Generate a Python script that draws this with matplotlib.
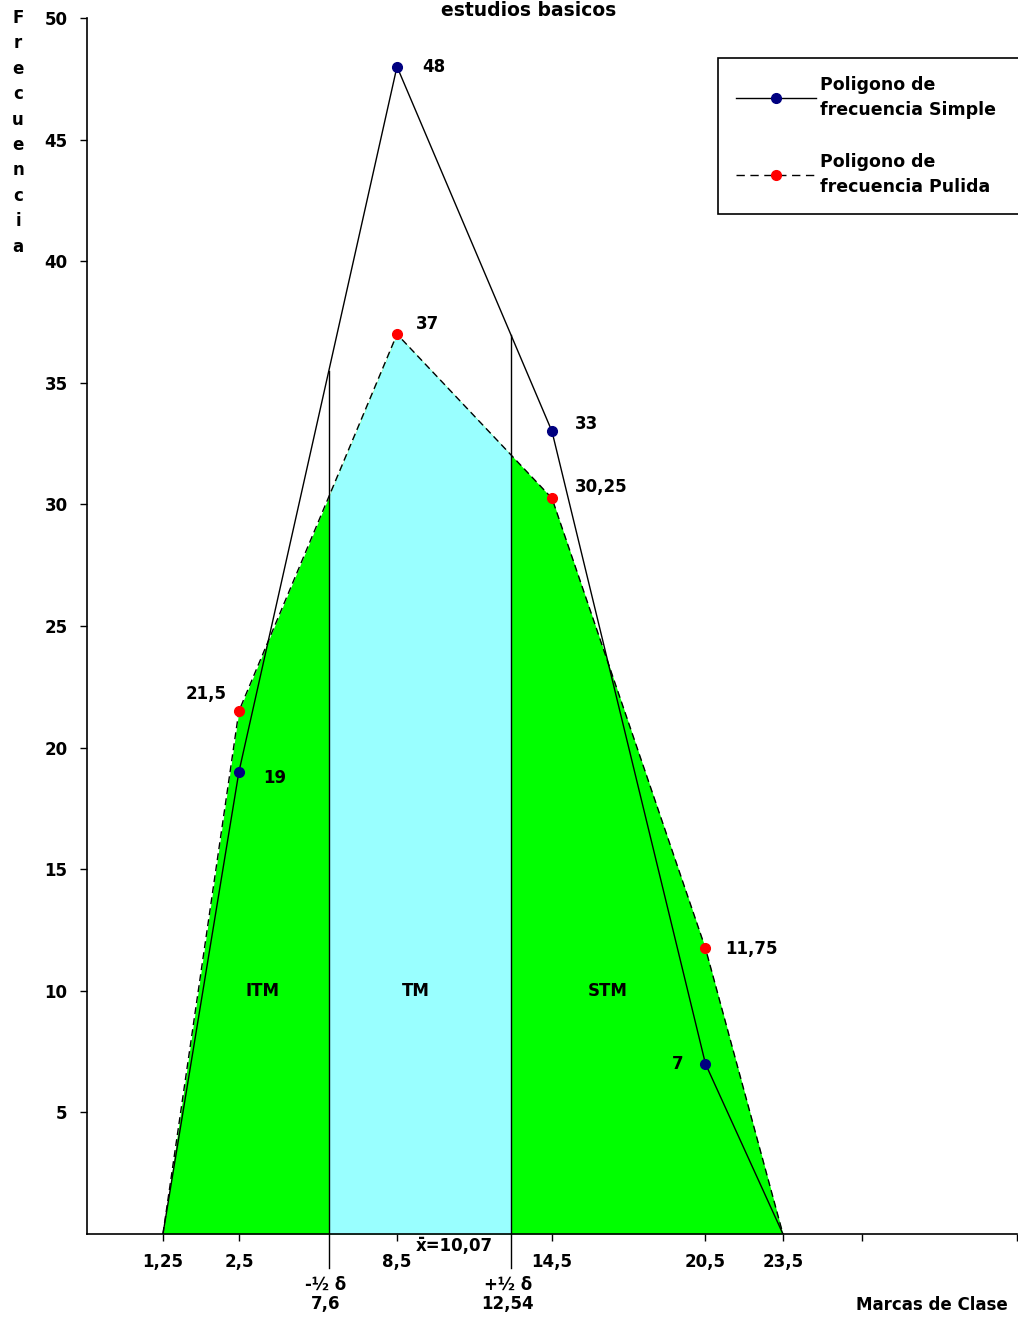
import matplotlib.pyplot as plt
import numpy as np
from matplotlib.lines import Line2D
from matplotlib.patches import Rectangle

# posiciones de las marcas de clase sobre el eje (como en la grafica de Excel)
marcas_pos = [0.49, 0.98, 2, 3, 3.99, 4.49]
marcas_txt = ['1,25', '2,5', '8,5', '14,5', '20,5', '23,5']
extra_ticks = [5, 6]

# frecuencias
simple = [0, 19, 48, 33, 7, 0]
pulida = [0, 21.5, 37, 30.25, 11.75, 0]

# limites de -1/2 delta y +1/2 delta
delta_pos = [1.56, 2.735]
delta_txt = ['-½ δ\n7,6', '+½ δ\n12,54']
media_pos = 2.37
media_txt = 'x̄=10,07'

zonas = ['ITM', 'TM', 'STM']
zonas_pos = [1.13, 2.12, 3.36]

verde = '#00ff00'
celeste = '#99ffff'

plt.rcParams['font.family'] = 'DejaVu Sans'
plt.rcParams['font.weight'] = 'bold'
plt.rcParams['font.size'] = 12

fig = plt.figure(figsize=(10.18, 13.17), dpi=100)
ax = fig.add_axes([87/1018, 1 - 1234/1317, 930/1018, 1216/1317])

# areas
ax.fill_between(marcas_pos, pulida, color=verde, lw=0, zorder=1)
tm = ax.fill_between(marcas_pos, pulida, color=celeste, lw=0, zorder=2)
clip = Rectangle((delta_pos[0], 0), delta_pos[1] - delta_pos[0], 50, transform=ax.transData)
tm.set_clip_path(clip)

# lineas verticales de -1/2 delta y +1/2 delta
for xp in delta_pos:
    ytop = np.interp(xp, marcas_pos, simple)
    ax.plot([xp, xp], [-1.4, ytop], color='black', lw=1, zorder=3, clip_on=False)

# poligonos
ax.plot(marcas_pos, simple, color='black', lw=1, zorder=4)
ax.plot(marcas_pos[1:-1], simple[1:-1], 'o', color='#000080', ms=7, zorder=5)
ax.plot(marcas_pos, pulida, color='black', lw=1, ls=(0, (5, 3)), zorder=4)
ax.plot(marcas_pos[1:-1], pulida[1:-1], 'o', color='#ff0000', ms=7, zorder=5)

# etiquetas de valores
ax.text(2.16, 48, '48', ha='left', va='center')
ax.text(2.12, 37.4, '37', ha='left', va='center')
ax.text(3.15, 33.3, '33', ha='left', va='center')
ax.text(3.15, 30.7, '30,25', ha='left', va='center')
ax.text(0.90, 22.2, '21,5', ha='right', va='center')
ax.text(1.135, 18.75, '19', ha='left', va='center')
ax.text(4.12, 11.7, '11,75', ha='left', va='center')
ax.text(3.85, 7.0, '7', ha='right', va='center')

for z, p in zip(zonas, zonas_pos):
    ax.text(p, 10.0, z, ha='center', va='center', zorder=6)

# textos bajo el eje
ax.text(media_pos, -0.5, media_txt, ha='center', va='center', clip_on=False)
for xp, t in zip(delta_pos, delta_txt):
    ax.text(xp - 0.02, -2.5, t, ha='center', va='center', linespacing=1.1, clip_on=False)

ax.set_xlim(0, 6)
ax.set_ylim(0, 50)
ax.set_xticks(marcas_pos + extra_ticks)
ax.set_xticklabels(marcas_txt + ['', ''])
ax.set_yticks(range(5, 55, 5))
ax.tick_params(axis='both', direction='out', length=5, width=1, labelsize=12)
ax.tick_params(axis='x', pad=9)
ax.tick_params(axis='y', pad=9)
for s in ['top', 'right']:
    ax.spines[s].set_visible(False)
for s in ['left', 'bottom']:
    ax.spines[s].set_linewidth(1.2)

# leyenda (sale por el borde derecho como en el original)
handles = [
    Line2D([], [], color='black', lw=1, marker='o', mfc='#000080', mec='#000080', ms=7),
    Line2D([], [], color='black', lw=1, ls=(0, (6, 4)), marker='o', mfc='#ff0000', mec='#ff0000', ms=7),
]
labels = ['Poligono de\nfrecuencia Simple', 'Poligono de\nfrecuencia Pulida']
leg = ax.legend(handles, labels, loc='upper left', bbox_to_anchor=(718/1018, 1 - 58/1317, 0.32, 0.0),
                bbox_transform=fig.transFigure, mode='expand', borderaxespad=0, fancybox=False,
                edgecolor='black', framealpha=1, handlelength=4.6, handletextpad=0.2,
                labelspacing=2.0, borderpad=1.05, fontsize=12.5)
leg.get_frame().set_linewidth(1.2)
for t in leg.get_texts():
    t.set_linespacing(1.45)

# titulos
fig.text(529/1018, 1 - 1/1317, 'estudios basicos', ha='center', va='top', fontsize=13.5)
for i, c in enumerate('Frecuencia'):
    fig.text(18/1018, 1 - (18 + i*25.4)/1317, c, ha='center', va='center')
fig.text(1008/1018, 1 - 1305/1317, 'Marcas de Clase', ha='right', va='center')

fig.savefig('out.png', dpi=100)
